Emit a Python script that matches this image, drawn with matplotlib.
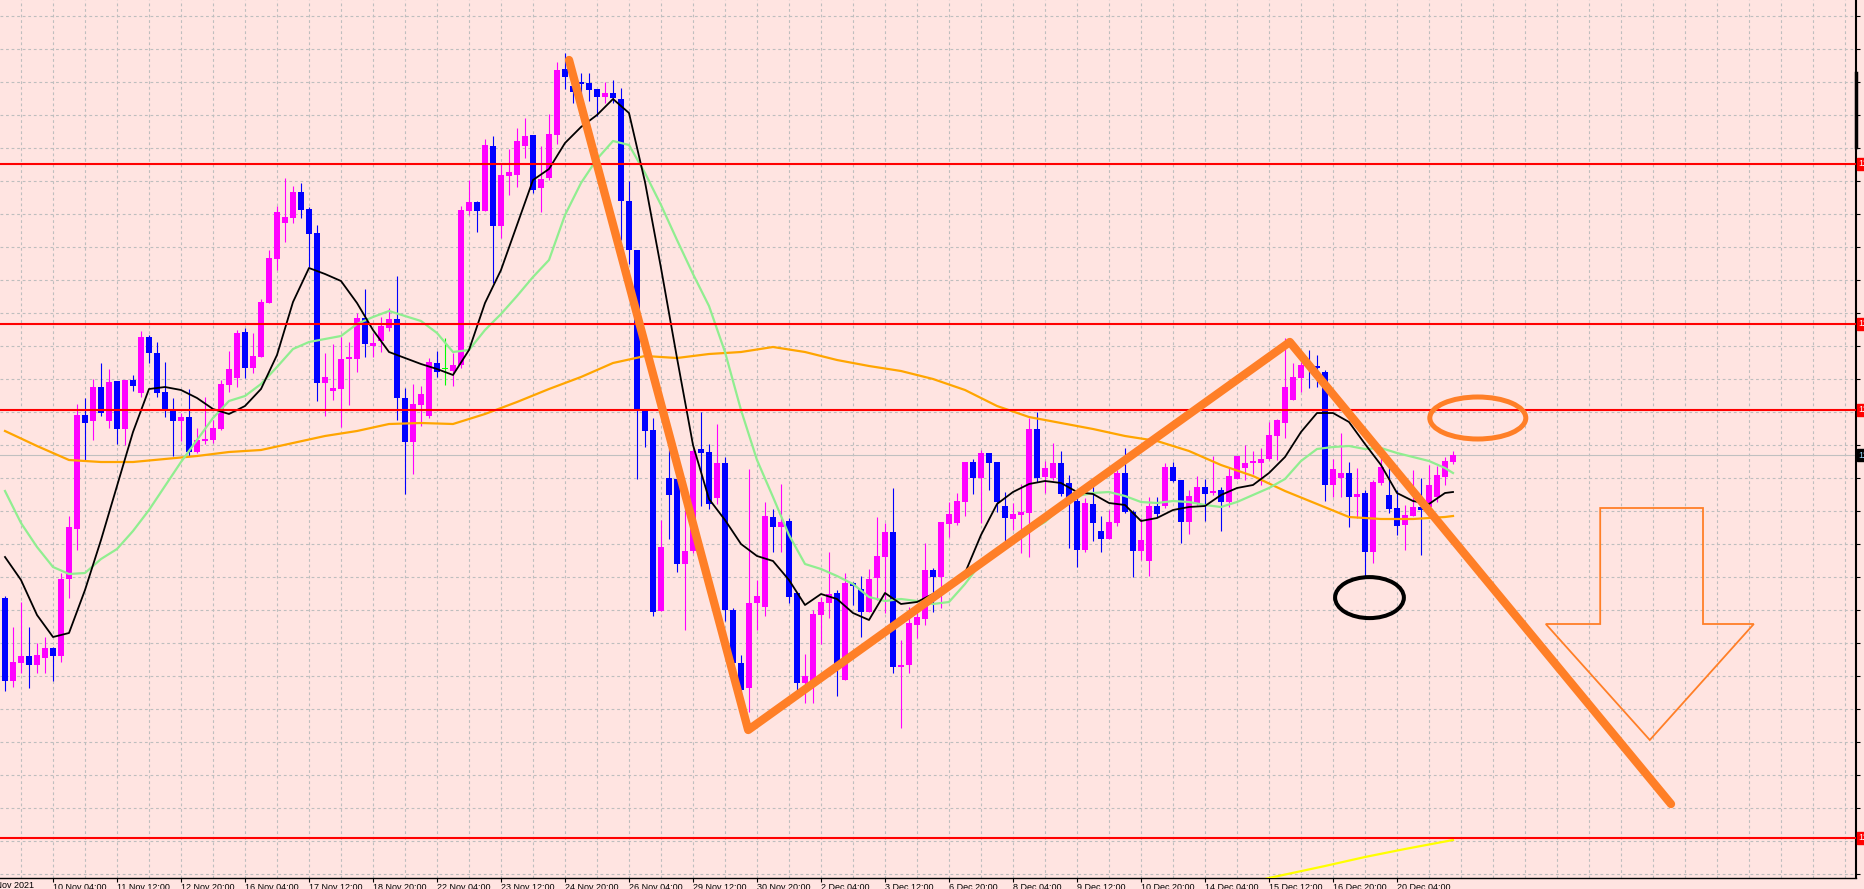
import numpy as np
import pandas as pd
import matplotlib
matplotlib.use('Agg')
import matplotlib.pyplot as plt
from matplotlib.patches import Ellipse, Polygon

plt.rcParams['font.family'] = ['Liberation Sans', 'DejaVu Sans']

# ==============================================================================
# DATA - USDJPY H4, 9 Nov 2021 04:00 -> 21 Dec 2021
# ==============================================================================
open_ = [113.010, 112.595, 112.685, 112.720, 112.675, 112.710, 112.760, 112.720, 113.105, 113.355,
         113.925, 113.895, 114.065, 113.895, 114.095, 113.855, 114.100, 114.035, 114.315, 114.235,
         114.040, 113.955, 113.895, 113.915, 113.740, 113.795, 113.800, 113.855, 114.075, 114.110,
         114.340, 114.160, 114.215, 114.485, 114.705, 114.885, 114.910, 115.040, 114.955, 114.835,
         114.085, 114.045, 114.055, 114.205, 114.205, 114.410, 114.270, 114.295, 114.360, 114.405,
         114.010, 113.790, 113.975, 113.920, 114.185, 114.155, 114.145, 114.175, 114.945, 114.990,
         114.945, 115.270, 114.870, 115.120, 115.125, 115.270, 115.325, 115.060, 115.110, 115.325,
         115.655, 115.570, 115.590, 115.585, 115.555, 115.515, 115.535, 115.505, 114.995, 114.750,
         113.955, 113.850, 112.945, 113.610, 113.605, 113.180, 113.245, 113.755, 113.740, 113.510,
         113.685, 112.950, 112.685, 112.560, 112.985, 112.965, 113.415, 113.365, 113.395, 113.035,
         112.585, 112.575, 112.925, 112.985, 113.035, 112.600, 113.085, 113.055, 112.940, 113.110,
         113.215, 113.340, 112.665, 112.675, 112.875, 112.905, 113.150, 113.115, 113.380, 113.385,
         113.490, 113.690, 113.610, 113.735, 113.690, 113.470, 113.405, 113.425, 113.435, 113.855,
         113.615, 113.610, 113.685, 113.585, 113.495, 113.250, 113.480, 113.345, 113.305, 113.385,
         113.635, 113.440, 113.245, 113.195, 113.470, 113.470, 113.665, 113.600, 113.390, 113.485,
         113.565, 113.535, 113.550, 113.490, 113.605, 113.660, 113.685, 113.685, 113.705, 113.820,
         113.885, 114.000, 114.110, 114.185, 114.170, 114.140, 113.575, 113.610, 113.635, 113.515,
         113.535, 113.240, 113.585, 113.525, 113.460, 113.375, 113.420, 113.465, 113.465, 113.515,
         113.615, 113.690]
high = [113.020, 112.865, 112.990, 112.865, 112.785, 112.815, 112.765, 113.135, 113.420, 113.980,
        114.010, 114.105, 114.185, 114.155, 114.095, 114.100, 114.125, 114.345, 114.325, 114.290,
        114.190, 114.010, 113.935, 114.055, 113.860, 114.015, 113.900, 114.100, 114.245, 114.350,
        114.360, 114.335, 114.505, 114.750, 114.970, 115.110, 115.070, 115.085, 114.965, 114.875,
        114.235, 114.280, 114.315, 114.290, 114.435, 114.555, 114.335, 114.415, 114.460, 114.620,
        114.060, 114.080, 114.070, 114.210, 114.245, 114.310, 114.235, 114.970, 115.100, 114.995,
        115.305, 115.320, 115.180, 115.255, 115.360, 115.410, 115.325, 115.270, 115.430, 115.690,
        115.735, 115.590, 115.635, 115.635, 115.555, 115.590, 115.600, 115.560, 115.095, 114.750,
        113.955, 113.910, 113.400, 113.765, 113.610, 113.510, 113.755, 113.940, 113.780, 113.880,
        113.715, 112.960, 112.725, 113.655, 113.100, 113.490, 113.455, 113.580, 113.410, 113.035,
        112.730, 112.950, 113.015, 113.240, 113.050, 113.135, 113.090, 113.120, 113.155, 113.415,
        113.385, 113.560, 112.800, 112.965, 112.960, 113.285, 113.160, 113.390, 113.490, 113.535,
        113.690, 113.705, 113.750, 113.735, 113.690, 113.540, 113.485, 113.580, 113.910, 113.940,
        113.695, 113.785, 113.745, 113.625, 113.535, 113.510, 113.605, 113.420, 113.450, 113.650,
        113.760, 113.450, 113.410, 113.515, 113.515, 113.685, 113.690, 113.600, 113.550, 113.620,
        113.605, 113.720, 113.565, 113.660, 113.720, 113.775, 113.745, 113.760, 113.890, 113.905,
        114.310, 114.185, 114.190, 114.250, 114.225, 114.150, 113.705, 113.835, 113.690, 113.660,
        113.550, 113.600, 113.715, 113.665, 113.550, 113.475, 113.650, 113.610, 113.675, 113.670,
        113.715, 113.745]
low = [112.545, 112.565, 112.635, 112.560, 112.635, 112.635, 112.595, 112.690, 113.010, 113.250,
       113.700, 113.800, 113.920, 113.860, 113.780, 113.775, 114.045, 114.015, 114.185, 114.015,
       113.915, 113.720, 113.795, 113.720, 113.735, 113.780, 113.785, 113.850, 114.040, 114.065,
       114.110, 114.135, 114.215, 114.485, 114.650, 114.790, 114.885, 114.910, 114.665, 113.995,
       113.920, 114.000, 113.865, 113.975, 114.140, 114.215, 114.215, 114.240, 114.345, 113.900,
       113.530, 113.630, 113.870, 113.910, 114.115, 114.075, 114.070, 114.160, 114.925, 114.840,
       114.945, 114.585, 114.810, 115.025, 115.065, 115.210, 115.035, 114.940, 115.100, 115.280,
       115.555, 115.485, 115.485, 115.495, 115.420, 115.485, 115.485, 114.800, 114.680, 113.605,
       113.765, 112.920, 112.945, 113.305, 113.140, 112.850, 113.235, 113.470, 113.455, 113.480,
       112.895, 112.600, 112.440, 112.440, 112.850, 112.920, 113.240, 113.240, 112.985, 112.525,
       112.485, 112.485, 112.780, 112.910, 112.520, 112.600, 112.975, 112.815, 112.940, 113.000,
       112.935, 112.635, 112.360, 112.635, 112.810, 112.875, 112.940, 112.960, 113.315, 113.375,
       113.420, 113.530, 113.385, 113.550, 113.440, 113.285, 113.350, 113.235, 113.215, 113.590,
       113.535, 113.600, 113.520, 113.260, 113.165, 113.240, 113.295, 113.240, 113.305, 113.370,
       113.435, 113.115, 113.200, 113.120, 113.415, 113.460, 113.590, 113.285, 113.330, 113.475,
       113.395, 113.525, 113.345, 113.465, 113.605, 113.600, 113.630, 113.575, 113.700, 113.700,
       113.810, 114.000, 114.040, 114.060, 114.065, 113.495, 113.515, 113.515, 113.365, 113.410,
       113.115, 113.185, 113.575, 113.435, 113.325, 113.250, 113.420, 113.225, 113.450, 113.490,
       113.575, 113.680]
close = [112.595, 112.690, 112.720, 112.675, 112.725, 112.760, 112.720, 113.105, 113.365, 113.925,
         113.885, 114.065, 113.935, 114.090, 113.855, 114.100, 114.070, 114.315, 114.235, 114.035,
         113.950, 113.895, 113.915, 113.740, 113.800, 113.805, 113.860, 114.080, 114.155, 114.335,
         114.160, 114.220, 114.490, 114.710, 114.940, 114.915, 115.040, 114.950, 114.830, 114.085,
         114.115, 114.060, 114.205, 114.215, 114.410, 114.280, 114.285, 114.370, 114.405, 114.010,
         113.790, 113.980, 114.030, 114.190, 114.140, 114.155, 114.175, 114.950, 114.990, 114.945,
         115.275, 114.870, 115.125, 115.140, 115.295, 115.320, 115.050, 115.105, 115.330, 115.650,
         115.615, 115.540, 115.580, 115.550, 115.515, 115.535, 115.510, 114.995, 114.750, 113.955,
         113.845, 112.940, 113.265, 113.525, 113.180, 113.245, 113.745, 113.735, 113.480, 113.685,
         112.950, 112.685, 112.550, 112.985, 113.020, 113.420, 113.365, 113.390, 113.015, 112.585,
         112.620, 112.930, 112.990, 113.030, 112.680, 113.085, 113.070, 112.940, 113.105, 113.220,
         113.340, 112.665, 112.675, 112.885, 112.915, 113.150, 113.115, 113.390, 113.430, 113.495,
         113.690, 113.610, 113.735, 113.685, 113.490, 113.410, 113.430, 113.440, 113.855, 113.610,
         113.660, 113.685, 113.530, 113.485, 113.250, 113.485, 113.385, 113.305, 113.390, 113.635,
         113.440, 113.245, 113.300, 113.470, 113.430, 113.665, 113.595, 113.390, 113.520, 113.565,
         113.530, 113.545, 113.490, 113.620, 113.720, 113.685, 113.695, 113.705, 113.825, 113.900,
         114.065, 114.115, 114.175, 114.165, 114.160, 113.575, 113.655, 113.635, 113.515, 113.530,
         113.240, 113.590, 113.665, 113.455, 113.370, 113.425, 113.465, 113.450, 113.575, 113.625,
         113.695, 113.725]

# moving averages, read every 2nd bar (fast, slow) and every 4th bar (long)
ma_short_bar = list(range(0, 182, 2)) + [181]
ma_fast = [113.215, 113.100, 112.925, 112.815, 112.835, 113.050, 113.300, 113.570, 113.840, 114.055,
           114.065, 114.050, 114.010, 113.955, 113.930, 113.970, 114.055, 114.225, 114.490, 114.660,
           114.630, 114.595, 114.485, 114.350, 114.240, 114.210, 114.180, 114.155, 114.125, 114.250,
           114.485, 114.650, 114.875, 115.100, 115.155, 115.285, 115.365, 115.425, 115.505, 115.435,
           115.090, 114.660, 114.210, 113.775, 113.505, 113.400, 113.280, 113.220, 113.195, 113.100,
           112.975, 113.030, 113.005, 112.935, 112.900, 113.035, 112.980, 112.990, 113.030, 113.075,
           113.135, 113.325, 113.480, 113.540, 113.580, 113.595, 113.585, 113.540, 113.530, 113.485,
           113.475, 113.395, 113.410, 113.450, 113.465, 113.470, 113.525, 113.560, 113.575, 113.635,
           113.715, 113.840, 113.935, 113.935, 113.890, 113.780, 113.675, 113.535, 113.495, 113.480,
           113.535, 113.540]
ma_slow = [113.545, 113.385, 113.265, 113.165, 113.130, 113.135, 113.205, 113.255, 113.345, 113.450,
           113.570, 113.690, 113.800, 113.910, 113.995, 114.020, 114.080, 114.165, 114.255, 114.290,
           114.305, 114.320, 114.380, 114.415, 114.445, 114.420, 114.395, 114.335, 114.240, 114.250,
           114.350, 114.430, 114.520, 114.615, 114.700, 114.925, 115.085, 115.205, 115.295, 115.275,
           115.135, 114.975, 114.800, 114.630, 114.470, 114.240, 113.950, 113.700, 113.515, 113.325,
           113.180, 113.155, 113.120, 113.080, 113.015, 112.995, 113.005, 112.995, 112.980, 112.990,
           113.080, 113.185, 113.250, 113.300, 113.345, 113.390, 113.460, 113.520, 113.535, 113.540,
           113.520, 113.490, 113.485, 113.495, 113.490, 113.475, 113.465, 113.490, 113.525, 113.560,
           113.605, 113.695, 113.755, 113.765, 113.770, 113.755, 113.760, 113.735, 113.715, 113.695,
           113.660, 113.635]
ma_long_bar = list(range(0, 182, 4)) + [181]
ma_long = [113.845, 113.770, 113.700, 113.690, 113.690, 113.705, 113.720, 113.740, 113.750, 113.785,
           113.820, 113.845, 113.880, 113.885, 113.880, 113.930, 113.990, 114.055, 114.115, 114.185,
           114.220, 114.210, 114.230, 114.240, 114.265, 114.240, 114.200, 114.170, 114.145, 114.105,
           114.050, 113.970, 113.915, 113.885, 113.855, 113.820, 113.795, 113.745, 113.675, 113.620,
           113.545, 113.480, 113.415, 113.405, 113.405, 113.415, 113.420]
ma_yellow_bar = [155, 158, 165, 170, 175, 181]
ma_yellow = [111.580, 111.610, 111.670, 111.715, 111.755, 111.800]

# horizontal levels and hand-drawn objects
red_levels = [115.180, 114.380, 113.950, 111.810]
trend_bar = [70.5, 92.9, 160.6, 208.25]
trend_price = [115.700, 112.350, 114.290, 111.980]

# ==============================================================================
# FIGURE
# ==============================================================================
BG = '#FFE4E1'
W, H = 1865, 889
fig = plt.figure(figsize=(W / 100, H / 100), dpi=100, facecolor=BG)
ax = fig.add_axes([0, 11 / H, 1856 / W, 878 / H])
ax.set_facecolor(BG)

n = len(close)
bars = np.arange(n)
o, hi, lo, c = map(np.array, (open_, high, low, close))

times = pd.date_range('2021-11-09 04:00', periods=400, freq='4h')
times = times[times.dayofweek < 5][:n]

ax.set_xlim(-0.625, 231.375)
ax.set_ylim(116.0 - 878 / 200, 116.0)

# grid
yticks = 115.92 - 0.165 * np.arange(27)
for v in yticks:
    ax.axhline(v, color='#BEBEBE', lw=0.8, ls=(0, (2.5, 2.5)), zorder=0)
for xg in np.arange(2, 231, 4):
    ax.axvline(xg, color='#BEBEBE', lw=0.8, ls=(0, (2.5, 2.5)), zorder=0)

# candles
cols = np.where(c > o, '#FF00FF', np.where(c < o, '#0000FF', '#00FF00'))
ax.vlines(bars, lo, hi, colors=cols, lw=0.8, zorder=2)
body_bot = np.minimum(o, c)
body_h = np.maximum(np.abs(c - o), 0.006)
ax.bar(bars, body_h, bottom=body_bot, width=0.65, color=cols, lw=0, zorder=2)

# moving averages
ax.plot(ma_long_bar, ma_long, color='#FFA500', lw=1.6, zorder=3)
ax.plot(ma_short_bar, ma_slow, color='#90EE90', lw=1.6, zorder=3)
ax.plot(ma_short_bar, ma_fast, color='black', lw=1.3, zorder=3)
ax.plot(ma_yellow_bar, ma_yellow, color='#FFFF00', lw=1.6, zorder=3)

# bid line
ax.axhline(close[-1], color='#C0C0C0', lw=0.8, zorder=1)

# red levels
for lv in red_levels:
    ax.axhline(lv, color='#FF0000', lw=1.5, zorder=4)

# hand drawn objects
ORANGE = '#FF7F27'
ax.plot(trend_bar, trend_price, color=ORANGE, lw=6, solid_capstyle='round',
        solid_joinstyle='round', zorder=5)
ax.add_patch(Ellipse((184.1, 113.91), 12.0, 0.21, fill=False, ec=ORANGE, lw=3.6, zorder=5))
ax.add_patch(Ellipse((170.56, 113.012), 8.6, 0.205, fill=False, ec='black', lw=2.9, zorder=5))
arrow = [(199.4, 113.46), (212.25, 113.46), (212.25, 112.88), (218.6, 112.88),
         (205.6, 112.30), (192.6, 112.88), (199.4, 112.88)]
ax.add_patch(Polygon(arrow, closed=True, fill=False, ec=ORANGE, lw=1.3, zorder=5))

# axes styling
for s in ['top', 'left']:
    ax.spines[s].set_visible(False)
ax.spines['right'].set_linewidth(1.5)
ax.spines['bottom'].set_linewidth(1.0)

ax.yaxis.tick_right()
ax.set_yticks(yticks)
ax.set_yticklabels([f'{v:.3f}' for v in yticks])
ax.tick_params(axis='y', direction='out', length=3, width=0.8, pad=2, labelsize=6.5)

xt = np.arange(6, n, 8)
ax.set_xticks(xt)
ax.set_xticklabels([f'{times[i].day} {times[i]:%b %H:%M}' for i in xt])
ax.tick_params(axis='x', direction='out', length=3, width=0.8, pad=0.5, labelsize=6.5)
for lab in ax.get_xticklabels():
    lab.set_horizontalalignment('left')
fig.text(-12 / W, (889 - 881) / H, f'{times[0].day} {times[0]:%b %Y}', fontsize=6.5,
         ha='left', va='top')

# price boxes on the scale
ytr = ax.get_yaxis_transform()
for lv in red_levels:
    ax.text(1.0015, lv, f'{lv:.3f}', transform=ytr, ha='left', va='center', fontsize=6.5,
            color='white', clip_on=False,
            bbox=dict(boxstyle='square,pad=0.2', fc='#FF0000', ec='#FF0000'))
ax.text(1.0015, close[-1], f'{close[-1]:.3f}', transform=ytr, ha='left', va='center',
        fontsize=6.5, color='#9AD8FF', clip_on=False,
        bbox=dict(boxstyle='square,pad=0.2', fc='black', ec='black'))
ax.plot([1.0, 1.0], [1 - 73 / 878, 1 - 147 / 878], transform=ax.transAxes, color='black',
        lw=2.5, clip_on=False, zorder=6)

fig.savefig('out.png', dpi=100, facecolor=BG)
